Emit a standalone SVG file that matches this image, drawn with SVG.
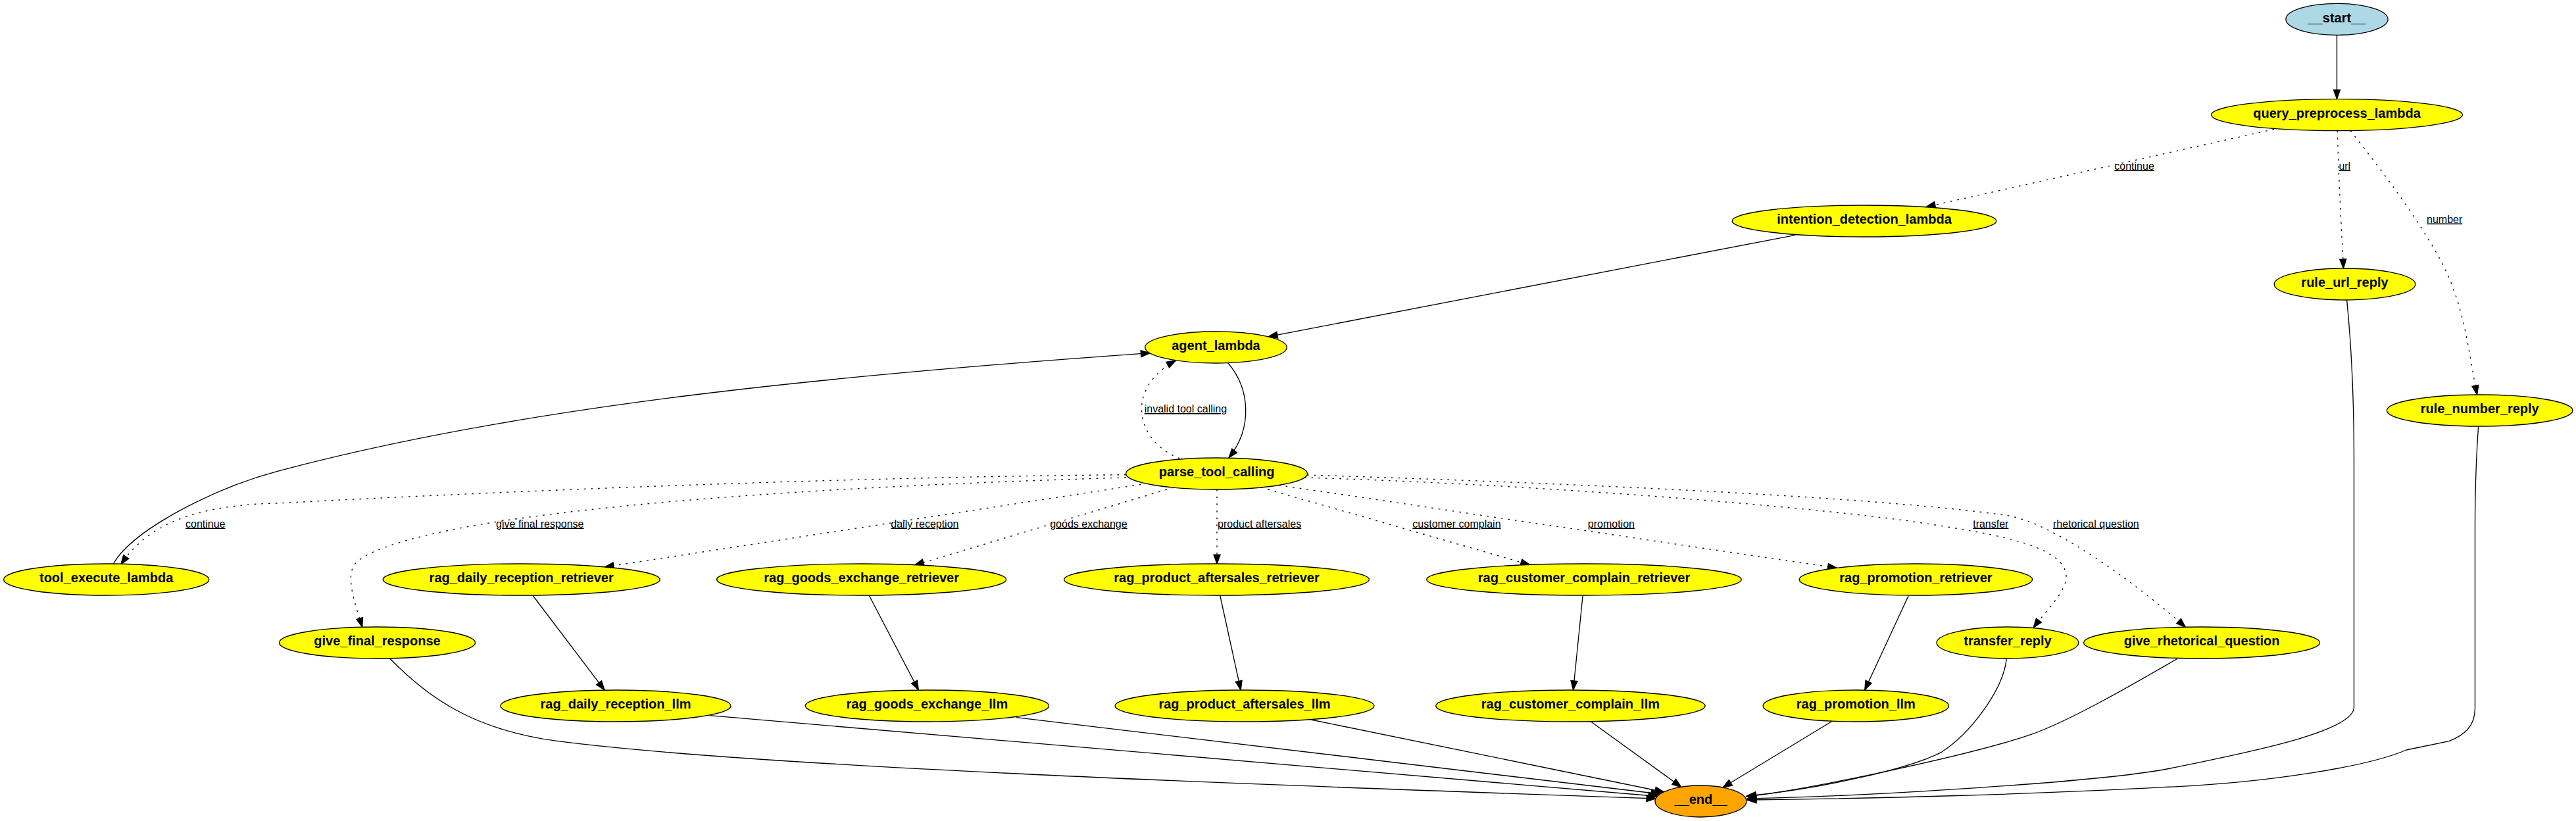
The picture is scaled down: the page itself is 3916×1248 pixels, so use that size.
<svg xmlns="http://www.w3.org/2000/svg" width="3916" height="1248" viewBox="0 0 3916 1248">
<style>
.node ellipse{stroke:#000;stroke-width:1.33;fill:#ffff00}
.node text{font-family:"Liberation Sans",Arial,sans-serif;font-weight:bold;font-size:20px;text-anchor:middle;fill:#000}
.e{fill:none;stroke:#000;stroke-width:1.33;marker-end:url(#arr)}
.d{stroke-dasharray:2.67 8}
.lbl{font-family:"Liberation Sans",Arial,sans-serif;font-size:16px;text-decoration:underline;fill:#000}
</style>
<defs>
<marker id="arr" markerUnits="userSpaceOnUse" markerWidth="16" markerHeight="12" refX="14" refY="5" orient="auto" overflow="visible">
<path d="M0,0 L14,5 L0,10 Z" fill="#000" stroke="#000" stroke-width="1.3"/>
</marker>
</defs>
<rect width="3916" height="1248" fill="#fff"/>
<g id="connectors">
<path class="e" d="M3552.5,53.3 L3552.5,150.6"/>
<path class="e d" d="M3457,196.4 L2928,314.5"/>
<text class="lbl" x="3214.3" y="257.5">continue</text>
<path class="e d" d="M3553.4,198.6 C3555,270 3559,340 3562.5,408"/>
<text class="lbl" x="3555.4" y="257.5">url</text>
<path class="e d" d="M3573,198.5 C3624.6,264 3673.4,328.9 3708.6,392.9 C3746.5,461.9 3751.8,531 3765.6,600"/>
<text class="lbl" x="3689" y="338.5">number</text>
<path class="e" d="M2729.2,357.3 L1928,511.8"/>
<path class="e" d="M1866.5,551.5 C1900,590 1905,650 1867.9,696"/>
<path class="e d" d="M1793.3,697 C1725,670 1710,590 1787.5,548"/>
<text class="lbl" x="1739.7" y="627">invalid tool calling</text>
<path class="e" d="M171.9,857.5 C201.9,805 324.4,742.7 420.9,716.7 C806.9,612.7 1299,568.2 1748.4,536.7"/>
<path class="e d" d="M1711.7,721.7 C1300,725 800,745 420.9,765 C260,768 210,820 183.8,857.8"/>
<text class="lbl" x="282" y="801.5">continue</text>
<path class="e d" d="M1711.7,726 C1400,735 1000,754 743.6,795 C668.6,807 563,830.1 540.2,856.7 C524,875.7 540.2,918.3 550.7,953.4"/>
<text class="lbl" x="754.1" y="801.5">give final response</text>
<path class="e d" d="M1745,734.8 L919,862"/>
<text class="lbl" x="1354.3" y="801.5">daily reception</text>
<path class="e d" d="M1784,741 L1390.3,859"/>
<text class="lbl" x="1596.2" y="801.5">goods exchange</text>
<path class="e d" d="M1850,744 L1850,857.2"/>
<text class="lbl" x="1851" y="801.5">product aftersales</text>
<path class="e d" d="M1917,740.8 L2325.8,858.7"/>
<text class="lbl" x="2147.3" y="801.5">customer complain</text>
<path class="e d" d="M1944,737.5 L2792.6,863.5"/>
<text class="lbl" x="2413.8" y="801.5">promotion</text>
<path class="e d" d="M1983,726 C2300,735 2700,765 2900,791.7 C3020,809.7 3141,826.7 3141,876.7 C3141,900 3109.5,929 3091.2,954.3"/>
<text class="lbl" x="2999.2" y="801.5">transfer</text>
<path class="e d" d="M1987,722 C2400,735 2850,755 3049,783.3 C3129,794.7 3270,906.5 3322.5,953.4"/>
<text class="lbl" x="3121" y="801.5">rhetorical question</text>
<path class="e" d="M810.2,905.5 L919,1049"/>
<path class="e" d="M1321.4,905.5 L1396.4,1049"/>
<path class="e" d="M1854.8,905.5 L1886.2,1049"/>
<path class="e" d="M2406.1,905.5 L2391.6,1049"/>
<path class="e" d="M2901.3,905.5 L2834.7,1049"/>
<path class="e" d="M592.8,1001 C650,1060 720,1110 848.7,1126.7 C1148.7,1165.7 1915.2,1193.3 2517,1214"/>
<path class="e" d="M1078.8,1087.7 L2520,1210.5"/>
<path class="e" d="M1545.2,1090.7 L2524,1207"/>
<path class="e" d="M1992.9,1094 L2530,1204"/>
<path class="e" d="M2418.2,1096.7 L2556,1196.5"/>
<path class="e" d="M2784.5,1096.7 L2619,1197"/>
<path class="e" d="M3050.4,1001 C3045,1050 2995,1115 2951.5,1143.3 C2900,1170 2760,1200 2655,1210"/>
<path class="e" d="M3309.6,1001.5 C3260,1030 3150,1095 3087,1116.7 C2997,1147.7 2750,1200 2655.5,1211"/>
<path class="e" d="M3567.6,455.9 C3574,520 3578.5,600 3578.5,700 L3578.5,1075 C3578.5,1110 3440,1140 3288.8,1170 C3180,1189 2850,1210 2656,1214"/>
<path class="e" d="M3767.6,648 C3764,700 3762.5,750 3762.5,800 L3762.5,1076.7 C3762.5,1105 3745,1118 3723,1126.7 L3658.2,1140 C3600,1165 3450,1190 3288.8,1196.7 C3100,1207 2850,1214 2656,1216"/>
</g>
<g id="n_start" class="node"><ellipse cx="3552.5" cy="29.3" rx="77.6" ry="24" style="fill:#add8e6"/><text x="3552.5" y="33.5">__start__</text></g>
<g id="n_query_preprocess_lambda" class="node"><ellipse cx="3552.5" cy="174.6" rx="191" ry="24"/><text x="3552.5" y="178.8">query_preprocess_lambda</text></g>
<g id="n_intention_detection_lambda" class="node"><ellipse cx="2834" cy="336" rx="200.8" ry="24"/><text x="2834" y="340.2">intention_detection_lambda</text></g>
<g id="n_rule_url_reply" class="node"><ellipse cx="3564.5" cy="432" rx="107.3" ry="24"/><text x="3564.5" y="436.2">rule_url_reply</text></g>
<g id="n_agent_lambda" class="node"><ellipse cx="1848.5" cy="528" rx="107.8" ry="24"/><text x="1848.5" y="532.2">agent_lambda</text></g>
<g id="n_rule_number_reply" class="node"><ellipse cx="3769.7" cy="624" rx="141.3" ry="24"/><text x="3769.7" y="628.2">rule_number_reply</text></g>
<g id="n_parse_tool_calling" class="node"><ellipse cx="1849.6" cy="720" rx="138" ry="24"/><text x="1849.6" y="724.2">parse_tool_calling</text></g>
<g id="n_tool_execute_lambda" class="node"><ellipse cx="161.7" cy="881" rx="156.1" ry="24"/><text x="161.7" y="885.2">tool_execute_lambda</text></g>
<g id="n_rag_daily_reception_retriever" class="node"><ellipse cx="792.7" cy="881" rx="210.5" ry="24"/><text x="792.7" y="885.2">rag_daily_reception_retriever</text></g>
<g id="n_rag_goods_exchange_retriever" class="node"><ellipse cx="1309.6" cy="881" rx="220" ry="24"/><text x="1309.6" y="885.2">rag_goods_exchange_retriever</text></g>
<g id="n_rag_product_aftersales_retriever" class="node"><ellipse cx="1849.5" cy="881" rx="231.9" ry="24"/><text x="1849.5" y="885.2">rag_product_aftersales_retriever</text></g>
<g id="n_rag_customer_complain_retriever" class="node"><ellipse cx="2408" cy="881" rx="239.2" ry="24"/><text x="2408" y="885.2">rag_customer_complain_retriever</text></g>
<g id="n_rag_promotion_retriever" class="node"><ellipse cx="2912.4" cy="881" rx="177.2" ry="24"/><text x="2912.4" y="885.2">rag_promotion_retriever</text></g>
<g id="n_give_final_response" class="node"><ellipse cx="573.5" cy="977" rx="149" ry="24"/><text x="573.5" y="981.2">give_final_response</text></g>
<g id="n_transfer_reply" class="node"><ellipse cx="3052" cy="977" rx="107.9" ry="24"/><text x="3052" y="981.2">transfer_reply</text></g>
<g id="n_give_rhetorical_question" class="node"><ellipse cx="3347.1" cy="977" rx="179.5" ry="24"/><text x="3347.1" y="981.2">give_rhetorical_question</text></g>
<g id="n_rag_daily_reception_llm" class="node"><ellipse cx="936" cy="1073" rx="175" ry="24"/><text x="936" y="1077.2">rag_daily_reception_llm</text></g>
<g id="n_rag_goods_exchange_llm" class="node"><ellipse cx="1409.4" cy="1073" rx="185.2" ry="24"/><text x="1409.4" y="1077.2">rag_goods_exchange_llm</text></g>
<g id="n_rag_product_aftersales_llm" class="node"><ellipse cx="1892" cy="1073" rx="197" ry="24"/><text x="1892" y="1077.2">rag_product_aftersales_llm</text></g>
<g id="n_rag_customer_complain_llm" class="node"><ellipse cx="2387.4" cy="1073" rx="204.7" ry="24"/><text x="2387.4" y="1077.2">rag_customer_complain_llm</text></g>
<g id="n_rag_promotion_llm" class="node"><ellipse cx="2821.3" cy="1073" rx="141.2" ry="24"/><text x="2821.3" y="1077.2">rag_promotion_llm</text></g>
<g id="n_end" class="node"><ellipse cx="2585.5" cy="1218" rx="69.5" ry="24" style="fill:#ffa500"/><text x="2585.5" y="1222.2">__end__</text></g>
</svg>
